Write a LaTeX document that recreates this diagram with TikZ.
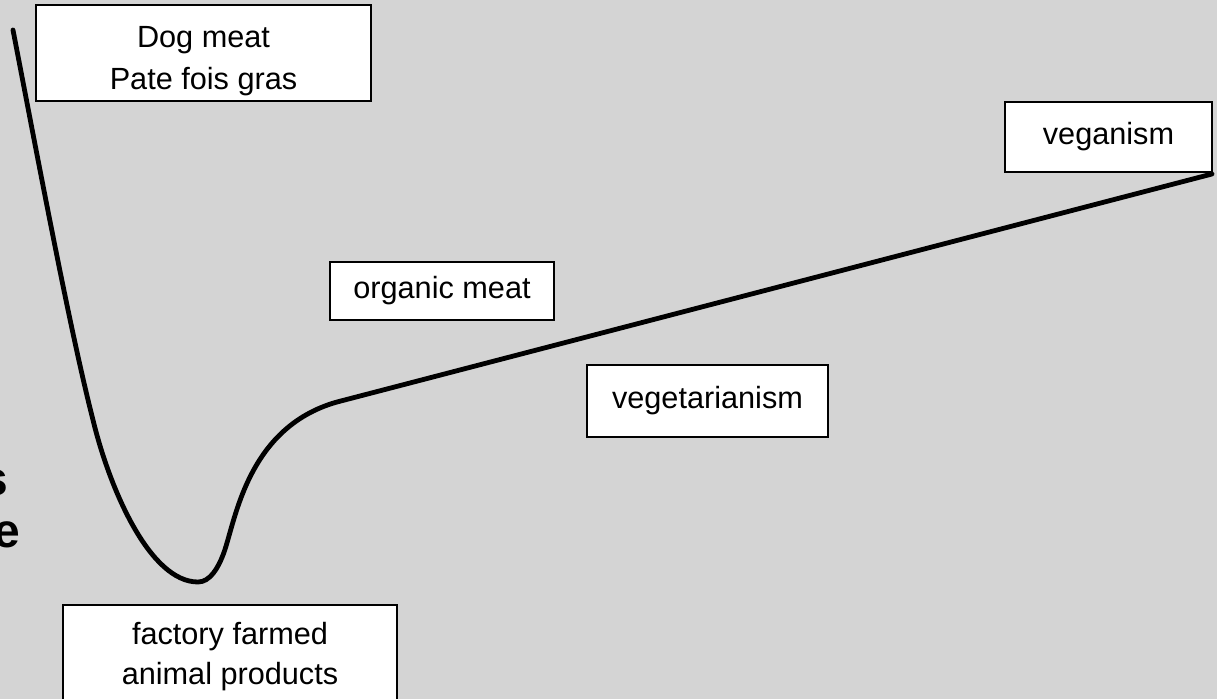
\documentclass[tikz,border=0pt]{standalone}
\usepackage{fontspec}
\setmainfont{Liberation Sans}
\usetikzlibrary{positioning}
\definecolor{bggray}{RGB}{212,212,212}

\begin{document}
\begin{tikzpicture}[x=0.75pt,y=-0.75pt,
  tagbox/.style={draw=black,line width=1.2pt,fill=white,align=center,
    inner sep=0pt,font=\fontsize{23}{30}\selectfont},
  edgeword/.style={anchor=base east,inner sep=0pt,
    font=\fontsize{36}{40}\selectfont\bfseries},
  demand/.style={line width=3.6pt,line cap=round}]
  \clip (0,0) rectangle (1217,699);
  \fill[bggray] (0,0) rectangle (1217,699);

  % letters cut off by the left edge
  \node[edgeword] (s) at (8,495)  {s};
  \node[edgeword] (e) at (20,547) {e};

  % the curve
  \coordinate (top)  at (13,30);
  \coordinate (fall) at (93,420);
  \coordinate (low)  at (198,582);
  \coordinate (rise) at (223,555);
  \coordinate (bend) at (337,402);
  \coordinate (tail) at (1212,174);
  \draw[demand] (top) .. controls (40,170) and (70,330) .. (fall)
    .. controls (110,490) and (150,582) .. (low)
    .. controls (210,582) and (218,568) .. (rise)
    .. controls (235,525) and (245,428) .. (bend) -- (tail);

  % boxes
  \node[tagbox,minimum width=251pt,minimum height=72pt,
    font=\fontsize{23}{32}\selectfont] (dog) at (203.5,53)
    {\rule{0pt}{28pt}Dog meat\\Pate fois gras};
  \node[tagbox,minimum width=155pt,minimum height=52.5pt] (vegan) at (1108.5,137) {veganism};
  \node[tagbox,minimum width=168pt,minimum height=43.5pt] (organic) at (442,291) {organic meat};
  \node[tagbox,minimum width=181pt,minimum height=54pt] (veggie) at (707.5,401) {vegetarianism};
  \node[tagbox,minimum width=250.5pt,minimum height=78pt] (factory) at (230,657)
    {factory farmed\\animal products};
\end{tikzpicture}
\end{document}
